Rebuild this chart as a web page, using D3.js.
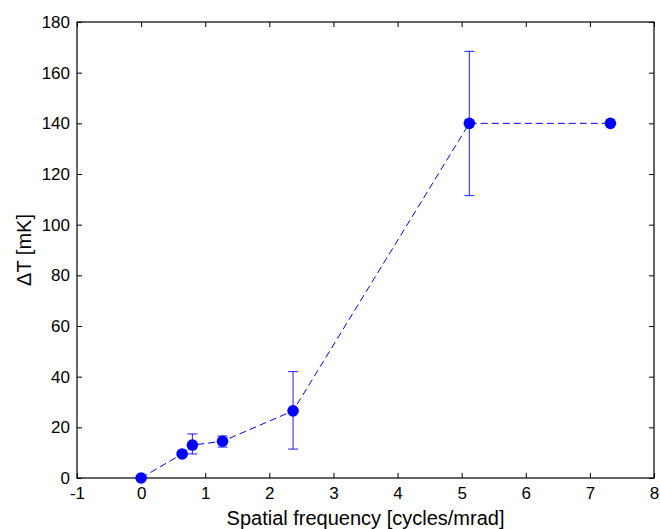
<!DOCTYPE html>
<html>
<head>
<meta charset="utf-8">
<script src="https://cdn.jsdelivr.net/npm/d3@7"></script>
<style>
  body { margin: 0; background: #fff; }
  svg { display: block; font-family: 'Liberation Sans', Arial, sans-serif; }
</style>
</head>
<body>
<figure style="margin:0"></figure>
<script>
const freq = [0, 0.64, 0.8, 1.27, 2.37, 5.12, 7.32]
const deltaT = [0, 9.5, 13, 14.5, 26.5, 140, 140]
const errLow = [null, null, 9.5, 12.2, 11.4, 111.5, null]
const errHigh = [null, null, 17.4, 16.6, 42, 168.4, null]
const xTicks = [-1, 0, 1, 2, 3, 4, 5, 6, 7, 8]
const yTicks = [0, 20, 40, 60, 80, 100, 120, 140, 160, 180]

const width = 660
const height = 529
const margin = { top: 22, right: 6, bottom: 51, left: 77 }
const blue = '#0000ff'

const points = freq.map((f, i) => ({ x: f, y: deltaT[i], lo: errLow[i], hi: errHigh[i] }))

const x = d3.scaleLinear().domain([-1, 8]).range([margin.left, width - margin.right])
const y = d3.scaleLinear().domain([0, 180]).range([height - margin.bottom, margin.top])

const svg = d3.select('figure').append('svg')
  .attr('width', width)
  .attr('height', height)

svg.append('rect')
  .attr('width', width)
  .attr('height', height)
  .attr('fill', '#fff')

// axes, ticks pointing inward like matlab
const tickLen = 5
const fmt = d => String(d) // plain hyphen for -1
const axisStyle = g => {
  g.selectAll('text').attr('font-size', 17).attr('fill', '#000')
  g.selectAll('line').attr('stroke', '#000')
  g.select('.domain').remove()
}

svg.append('g')
  .attr('transform', `translate(0,${y(0)})`)
  .call(d3.axisBottom(x).tickValues(xTicks).tickSize(-tickLen).tickPadding(9).tickFormat(fmt))
  .call(axisStyle)

svg.append('g')
  .attr('transform', `translate(0,${y(180)})`)
  .call(d3.axisTop(x).tickValues(xTicks).tickSize(-tickLen).tickFormat(''))
  .call(axisStyle)

svg.append('g')
  .attr('transform', `translate(${x(-1)},0)`)
  .call(d3.axisLeft(y).tickValues(yTicks).tickSize(-tickLen).tickPadding(7).tickFormat(fmt))
  .call(axisStyle)

svg.append('g')
  .attr('transform', `translate(${x(8)},0)`)
  .call(d3.axisRight(y).tickValues(yTicks).tickSize(-tickLen).tickFormat(''))
  .call(axisStyle)

svg.append('rect')
  .attr('x', x(-1))
  .attr('y', y(180))
  .attr('width', x(8) - x(-1))
  .attr('height', y(0) - y(180))
  .attr('fill', 'none')
  .attr('stroke', '#000')
  .attr('stroke-width', 1.2)

// error bars
const eb = svg.append('g')
  .attr('stroke', blue)
  .attr('stroke-opacity', 0.75)
  .attr('stroke-width', 1.2)
  .selectAll('g')
  .data(points.filter(d => d.lo !== null))
  .join('g')

eb.append('line')
  .attr('x1', d => x(d.x)).attr('x2', d => x(d.x))
  .attr('y1', d => y(d.lo)).attr('y2', d => y(d.hi))
eb.append('line')
  .attr('x1', d => x(d.x) - 5).attr('x2', d => x(d.x) + 5)
  .attr('y1', d => y(d.lo)).attr('y2', d => y(d.lo))
eb.append('line')
  .attr('x1', d => x(d.x) - 5).attr('x2', d => x(d.x) + 5)
  .attr('y1', d => y(d.hi)).attr('y2', d => y(d.hi))

// dashed line
const line = d3.line().x(d => x(d.x)).y(d => y(d.y))
svg.append('path')
  .datum(points)
  .attr('d', line)
  .attr('fill', 'none')
  .attr('stroke', blue)
  .attr('stroke-width', 1)
  .attr('stroke-dasharray', '7,4')

svg.append('g')
  .selectAll('circle')
  .data(points)
  .join('circle')
  .attr('cx', d => x(d.x))
  .attr('cy', d => y(d.y))
  .attr('r', 5.8)
  .attr('fill', blue)

// labels
svg.append('text')
  .attr('x', (x(-1) + x(8)) / 2)
  .attr('y', 525)
  .attr('text-anchor', 'middle')
  .attr('font-size', 20)
  .text('Spatial frequency [cycles/mrad]')

svg.append('text')
  .attr('transform', `translate(31,${(y(0) + y(180)) / 2}) rotate(-90)`)
  .attr('text-anchor', 'middle')
  .attr('font-size', 20)
  .text('ΔT [mK]')
</script>
</body>
</html>
